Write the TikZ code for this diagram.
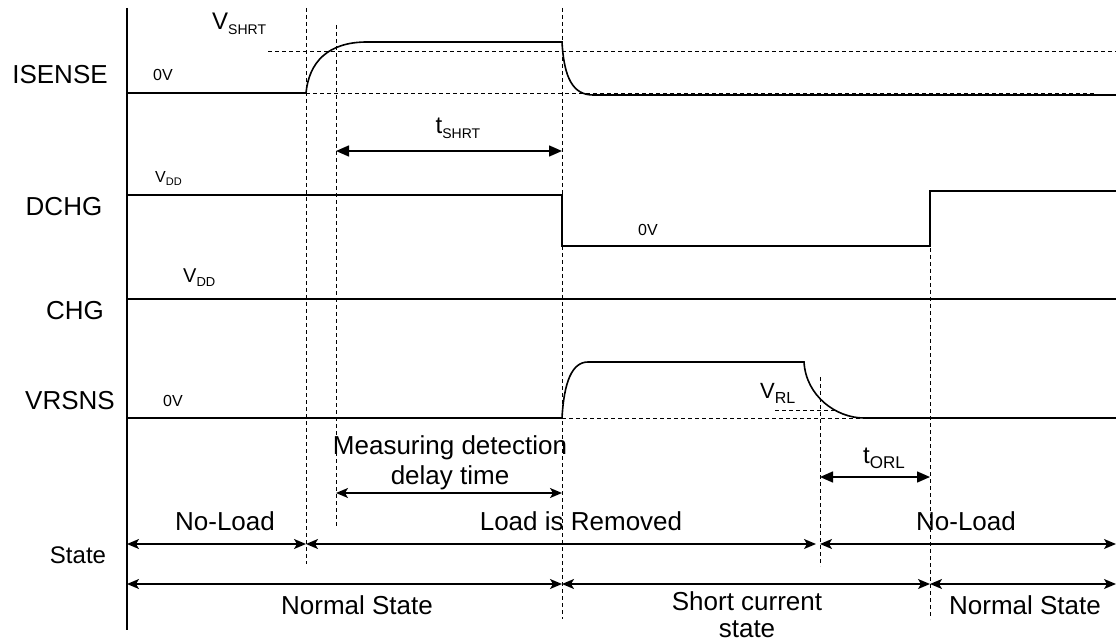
\documentclass[tikz,border=0pt]{standalone}
\usepackage{fontspec}
\setmainfont{Liberation Sans}
\usetikzlibrary{arrows.meta}
\begin{document}
\begin{tikzpicture}[x=1pt,y=-1pt,
  sig/.style={line width=1.6pt},
  guide/.style={line width=0.8pt,dash pattern=on 4pt off 3pt},
  lbl/.style={font=\fontsize{26}{30}\selectfont,inner sep=0pt},
  small/.style={font=\fontsize{16}{18}\selectfont,inner sep=0pt},
  sarrow/.style={line width=1.5pt,{Stealth[length=12pt,width=10pt,inset=3pt]}-{Stealth[length=12pt,width=10pt,inset=3pt]}},
  tarrow/.style={line width=1.5pt,{Triangle[length=13pt,width=11pt]}-{Triangle[length=13pt,width=11pt]}}]
\useasboundingbox (0,0) rectangle (1116,644);
% axis
\coordinate (axT) at (127,8);
\coordinate (axB) at (127,630);
\draw[line width=1.5pt] (axT) -- (axB);
% guide verticals
\coordinate (g1t) at (306,8);   \coordinate (g1b) at (306,564);
\coordinate (g2t) at (336,25);  \coordinate (g2b) at (336,527);
\coordinate (g3t) at (562,8);   \coordinate (g3b) at (562,619);
\coordinate (g4t) at (820,377); \coordinate (g4b) at (820,566);
\coordinate (g5t) at (930,192); \coordinate (g5b) at (930,619);
\foreach \a in {1,...,5} \draw[guide] (g\a t) -- (g\a b);
% signal labels
\node[lbl] (lISENSE) at (60,75) {ISENSE};
\node[lbl] (lDCHG) at (64,207) {DCHG};
\node[lbl] (lCHG) at (75,311) {CHG};
\node[lbl] (lVRSNS) at (70,401) {VRSNS};
\node[font=\fontsize{24}{28}\selectfont,inner sep=0pt] (lState) at (78,555) {State};
% ISENSE
\coordinate (i0) at (127,93); \coordinate (i1) at (306,93);
\coordinate (i2) at (367,42); \coordinate (i3) at (562,42);
\coordinate (i4) at (593,95); \coordinate (i5) at (1116,95);
\draw[sig] (i0) -- (i1) .. controls (309,62) and (328,42) .. (i2) -- (i3)
  .. controls (564,78) and (573,95) .. (i4) -- (i5);
\coordinate (vs0) at (268,51); \coordinate (vs1) at (1116,51);
\draw[guide] (vs0) -- (vs1);
\coordinate (ib1) at (1095,93);
\draw[guide] (i1) -- (ib1);
\node[small] (i0V) at (163,75) {0V};
\node[inner sep=0pt,anchor=base west] (vshrt) at (212,30) {\fontsize{24}{26}\selectfont V\fontsize{14}{16}\selectfont\raisebox{-5pt}{SHRT}};
% tSHRT
\coordinate (ts0) at (336,151); \coordinate (ts1) at (562,151);
\draw[tarrow] (ts0) -- (ts1);
\node[inner sep=0pt,anchor=base] (tshrt) at (458,134) {\fontsize{24}{26}\selectfont t\fontsize{14}{16}\selectfont\raisebox{-5pt}{SHRT}};
% DCHG
\coordinate (d0) at (127,195); \coordinate (d1) at (562,195);
\coordinate (d2) at (562,246); \coordinate (d3) at (930,246);
\coordinate (d4) at (930,191); \coordinate (d5) at (1116,191);
\draw[sig] (d0) -- (d1) -- (d2) -- (d3) -- (d4) -- (d5);
\node[inner sep=0pt,anchor=base west] (dvdd) at (155,183) {\fontsize{16}{18}\selectfont V\fontsize{11}{12}\selectfont\raisebox{-3pt}{DD}};
\node[small] (d0V) at (648,230) {0V};
% CHG
\coordinate (c0) at (127,299); \coordinate (c1) at (1116,299);
\draw[sig] (c0) -- (c1);
\node[inner sep=0pt,anchor=base west] (cvdd) at (183,283) {\fontsize{20}{22}\selectfont V\fontsize{13}{14}\selectfont\raisebox{-4pt}{DD}};
% VRSNS
\coordinate (r0) at (127,418); \coordinate (r1) at (562,418);
\coordinate (r2) at (588,362); \coordinate (r3) at (804,362);
\coordinate (r4) at (864,418); \coordinate (r5) at (1116,418);
\draw[sig] (r0) -- (r1) .. controls (564,382) and (572,362) .. (r2) -- (r3)
  .. controls (806,396) and (836,418) .. (r4) -- (r5);
\draw[guide] (r1) -- (r5);
\coordinate (vr0) at (775,410); \coordinate (vr1) at (836,410);
\draw[guide] (vr0) -- (vr1);
\node[small] (r0V) at (173,401) {0V};
\node[inner sep=0pt,anchor=base west] (vrl) at (760,398) {\fontsize{22}{24}\selectfont V\fontsize{16}{18}\selectfont\raisebox{-5pt}{RL}};
% measuring delay
\node[lbl,align=center] (meas) at (450,463) {Measuring detection\\delay time};
\coordinate (m0) at (336,493); \coordinate (m1) at (562,493);
\draw[sarrow] (m0) -- (m1);
% tORL
\node[inner sep=0pt,anchor=base west] (torl) at (863,463) {\fontsize{24}{26}\selectfont t\fontsize{17}{18}\selectfont\raisebox{-5pt}{ORL}};
\coordinate (o0) at (820,477); \coordinate (o1) at (930,477);
\draw[tarrow] (o0) -- (o1);
% state row 1
\coordinate (s0) at (127,544); \coordinate (s1) at (306,544);
\coordinate (s2) at (816,544); \coordinate (s3) at (820,544);
\coordinate (s4) at (1116,544);
\draw[sarrow] (s0) -- (s1);
\draw[sarrow] (s1) -- (s2);
\draw[sarrow] (s3) -- (s4);
\node[lbl] (nl1) at (225,521) {No-Load};
\node[lbl] (lir) at (581,521) {Load is Removed};
\node[lbl] (nl2) at (966,521) {No-Load};
% state row 2
\coordinate (n0) at (127,584); \coordinate (n1) at (562,584);
\coordinate (n2) at (930,584); \coordinate (n3) at (1116,584);
\draw[sarrow] (n0) -- (n1);
\draw[sarrow] (n1) -- (n2);
\draw[sarrow] (n2) -- (n3);
\node[lbl] (ns1) at (357,605) {Normal State};
\node[lbl,align=center,font=\fontsize{26}{27}\selectfont] (sc) at (747,615) {Short current\\state};
\node[lbl] (ns2) at (1025,605) {Normal State};
\end{tikzpicture}
\end{document}
